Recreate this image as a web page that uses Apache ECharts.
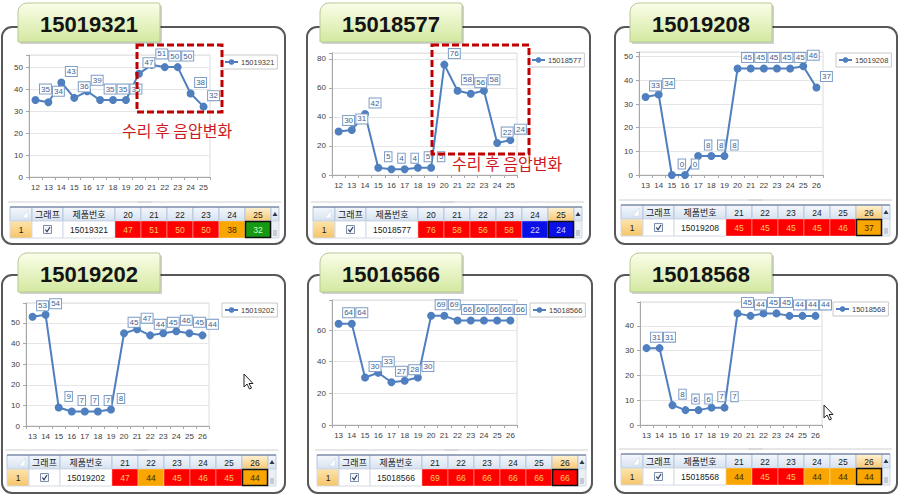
<!DOCTYPE html>
<html><head><meta charset="utf-8">
<script src="https://cdn.jsdelivr.net/npm/echarts@6/dist/echarts.min.js"></script>
<style>html,body{margin:0;padding:0;background:#fff;}#c{width:898px;height:495px;}</style>
</head><body><div id="c"></div>
<script>
// ---------- data ----------
const titles = ['15019321', '15018577', '15019208', '15019202', '15016566', '15018568'];
const seriesNames = ['15019321', '15018577', '15019208', '15019202', '15018566', '15018568'];
const categoriesA = ['12', '13', '14', '15', '16', '17', '18', '19', '20', '21', '22', '23', '24', '25'];
const categoriesB = ['13', '14', '15', '16', '17', '18', '19', '20', '21', '22', '23', '24', '25', '26'];
const values1 = [35, 34, 43, 36, 39, 35, 35, 35, 47, 51, 50, 50, 38, 32];
const values2 = [30, 31, 42, 5, 4, 4, 5, 5, 76, 58, 56, 58, 22, 24];
const values3 = [33, 34, 0, 0, 8, 8, 8, 45, 45, 45, 45, 45, 46, 37];
const values4 = [53, 54, 9, 7, 7, 7, 8, 45, 47, 44, 45, 46, 45, 44];
const values5 = [64, 64, 30, 33, 27, 28, 30, 69, 69, 66, 66, 66, 66, 66];
const values6 = [31, 31, 8, 6, 6, 7, 7, 45, 44, 45, 45, 44, 44, 44];
const cellColors1 = ['red', 'red', 'red', 'red', 'orange', 'green'];
const cellColors2 = ['red', 'red', 'red', 'red', 'blue', 'blue'];
const cellColors3 = ['red', 'red', 'red', 'red', 'red', 'orange'];
const cellColors4 = ['red', 'orange', 'red', 'red', 'red', 'orange'];
const cellColors5 = ['red', 'red', 'red', 'red', 'red', 'red'];
const cellColors6 = ['orange', 'red', 'red', 'orange', 'orange', 'orange'];
const tableHeaders = ['그래프', '제품번호'];
const noteText = '수리 후 음압변화';
const rowNumber = '1';

const allValues = [values1, values2, values3, values4, values5, values6];
const allCats = [categoriesA, categoriesA, categoriesB, categoriesB, categoriesB, categoriesB];
const allCellColors = [cellColors1, cellColors2, cellColors3, cellColors4, cellColors5, cellColors6];

// ---------- layout ----------
const panels = [
  {frame: [2, 27, 283, 217], tab: [18, 3], grid: [29, 55, 181, 122], yMax: 55.5, step: 10, legend: [222, 55], table: [10, 207]},
  {frame: [307, 27, 283, 217], tab: [320, 3], grid: [332, 53, 185, 122], yMax: 84, step: 20, legend: [529, 53], table: [313, 207]},
  {frame: [615, 27, 282, 217], tab: [630, 3], grid: [639, 52, 184, 123], yMax: 52, step: 10, legend: [836, 53], table: [621, 205]},
  {frame: [2, 275, 283, 218], tab: [18, 253], grid: [26, 303, 183, 123], yMax: 59.7, step: 10, legend: [222, 303], table: [7, 455]},
  {frame: [308, 275, 284, 218], tab: [320, 253], grid: [332, 300, 185, 125], yMax: 79, step: 20, legend: [530, 303], table: [317, 455]},
  {frame: [615, 275, 282, 218], tab: [630, 253], grid: [640, 302, 182, 123], yMax: 49.6, step: 10, legend: [833, 302], table: [621, 454]}
];
const notes = [
  {box: [137, 45, 85, 67], text: [122, 130]},
  {box: [432, 45, 97, 109], text: [452, 163]}
];
const cursors = [[244, 374], [824, 405]];

const LINE = '#4f7fbf';
const cellFill = {red: '#ff0000', orange: '#f9a602', blue: '#0a10e6', green: '#169a16'};
const cellText = {red: '#ffc860', orange: '#3a2a00', blue: '#d0d8ff', green: '#d0ffc0'};
const G = echarts.graphic;
const numFont = '"Liberation Sans", Arial, sans-serif';
const krFont = '"Noto Sans CJK KR", sans-serif';

const grids = [], xAxes = [], yAxes = [], series = [], legends = [], graphics = [];

panels.forEach((p, i) => {
  grids.push({left: p.grid[0], top: p.grid[1], width: p.grid[2], height: p.grid[3],
    show: true, borderColor: '#dcdcdc', borderWidth: 1, backgroundColor: '#fff', containLabel: false});
  xAxes.push({type: 'category', gridIndex: i, data: allCats[i], boundaryGap: true,
    axisLine: {lineStyle: {color: '#a8a8a8'}}, axisTick: {show: true, length: 3, lineStyle: {color: '#a8a8a8'}},
    axisLabel: {interval: 0, fontSize: 8, color: '#404040', fontFamily: numFont, margin: 6}});
  yAxes.push({type: 'value', gridIndex: i, min: 0, max: p.yMax, interval: p.step,
    axisLine: {show: true, lineStyle: {color: '#a8a8a8'}}, axisTick: {show: true, length: 3, lineStyle: {color: '#a8a8a8'}},
    splitLine: {lineStyle: {color: '#e6e6e6'}},
    axisLabel: {fontSize: 8, color: '#404040', fontFamily: numFont, margin: 6,
      formatter: (v) => (Math.abs(v % p.step) < 1e-6 ? String(v) : '')}});
  series.push({type: 'line', name: seriesNames[i], xAxisIndex: i, yAxisIndex: i, data: allValues[i],
    symbol: 'circle', symbolSize: 8, color: LINE,
    lineStyle: {color: LINE, width: 2}, itemStyle: {color: LINE},
    label: {show: true, position: 'inside', offset: [10, -11], fontSize: 8, fontFamily: numFont,
      color: '#3c5f92', backgroundColor: '#fff', borderColor: '#7d9cc6', borderWidth: 1, padding: [1, 1, 0, 1]},
    emphasis: {disabled: true}, animation: false, z: 3});
  legends.push({data: [seriesNames[i]], left: p.legend[0], top: p.legend[1], orient: 'vertical',
    backgroundColor: '#fff', borderColor: '#c8c8c8', borderWidth: 1, padding: [3, 3, 3, 2],
    itemWidth: 13, itemHeight: 7, itemGap: 0,
    textStyle: {fontSize: 7.5, color: '#404040', fontFamily: numFont, padding: [0, 0, 0, -2]}});

  // panel frame
  const [fx, fy, fw, fh] = p.frame;
  graphics.push({type: 'rect', z: 1, shape: {x: fx, y: fy, width: fw, height: fh, r: 10},
    style: {fill: 'none', stroke: '#585858', lineWidth: 2}});
  // tab
  const [tx, ty] = p.tab;
  graphics.push({type: 'rect', z: 2, shape: {x: tx + 2, y: ty + 2, width: 142, height: 39, r: [9, 2, 0, 0]},
    style: {fill: 'rgba(0,0,0,0.18)'}});
  graphics.push({type: 'rect', z: 3, shape: {x: tx, y: ty, width: 142, height: 39, r: [9, 2, 0, 0]},
    style: {fill: new G.LinearGradient(0, 0, 0, 1, [{offset: 0, color: '#fbfde9'}, {offset: 1, color: '#d3e9a0'}]),
      stroke: '#b5c996', lineWidth: 1}});
  graphics.push({type: 'text', z: 4, style: {text: titles[i], x: tx + 71, y: ty + 21,
    align: 'center', verticalAlign: 'middle', textAlign: 'center', textVerticalAlign: 'middle',
    font: 'bold 22px ' + numFont, fill: '#141414'}});

  // table
  const [bx, by] = p.table;
  const hH = 14, rH = 17;
  const widths = [22, 31, 52, 26, 26, 26, 26, 26, 26, 8];
  const totalW = widths.reduce((a, b) => a + b, 0);
  graphics.push({type: 'line', z: 2, shape: {x1: bx - 2, y1: by - 5, x2: bx + totalW + 2, y2: by - 5},
    style: {stroke: '#cfcfcf', lineWidth: 1}});
  graphics.push({type: 'rect', z: 2, shape: {x: bx + totalW / 2 - 7, y: by - 6, width: 14, height: 2},
    style: {fill: '#d8d8d8'}});
  const headGrad = () => new G.LinearGradient(0, 0, 0, 1, [{offset: 0, color: '#f5f8fc'}, {offset: 1, color: '#d6e2f1'}]);
  const selGrad = () => new G.LinearGradient(0, 0, 0, 1, [{offset: 0, color: '#fff3d6'}, {offset: 1, color: '#f7c873'}]);
  const cats6 = allCats[i].slice(-6);
  const vals6 = allValues[i].slice(-6);
  let cx = bx;
  widths.forEach((w, c) => {
    const isSel = c === 8;
    graphics.push({type: 'rect', z: 2, shape: {x: cx, y: by, width: w, height: hH},
      style: {fill: isSel ? selGrad() : headGrad(), stroke: '#b7c7dc', lineWidth: 1}});
    let headTxt = null;
    if (c === 1 || c === 2) headTxt = tableHeaders[c - 1];
    if (c >= 3 && c <= 8) headTxt = cats6[c - 3];
    if (headTxt !== null) {
      graphics.push({type: 'text', z: 3, style: {text: headTxt, x: cx + w / 2, y: by + hH / 2 + 0.5,
        align: 'center', verticalAlign: 'middle', textAlign: 'center', textVerticalAlign: 'middle',
        font: (c <= 2 ? '9px ' + krFont : '8.5px ' + numFont), fill: '#202020'}});
    }
    if (c === 0) {
      graphics.push({type: 'polygon', z: 3, shape: {points: [[cx + w - 4, by + 3], [cx + w - 4, by + hH - 3], [cx + w - 10, by + hH - 3]]},
        style: {fill: '#ffffff', stroke: '#c4d2e4', lineWidth: 0.5}});
    }
    if (c === 9) {
      graphics.push({type: 'polygon', z: 3, shape: {points: [[cx + 4, by + 5], [cx + 1.5, by + 9], [cx + 6.5, by + 9]]},
        style: {fill: '#303848'}});
    }
    const ry = by + hH;
    let fill = '#ffffff', txt = null, tcol = '#202020', font = '8.5px ' + numFont;
    if (c === 0) { fill = new G.LinearGradient(0, 0, 0, 1, [{offset: 0, color: '#fde4ac'}, {offset: 1, color: '#f6c56a'}]); txt = rowNumber; }
    if (c === 2) { txt = seriesNames[i]; }
    if (c >= 3 && c <= 8) { const k = allCellColors[i][c - 3]; fill = cellFill[k]; tcol = cellText[k]; txt = String(vals6[c - 3]); }
    if (c === 9) { fill = '#eceff4'; }
    graphics.push({type: 'rect', z: 2, shape: {x: cx, y: ry, width: w, height: rH},
      style: {fill: fill, stroke: (c >= 3 && c <= 8) ? 'rgba(255,255,255,0.35)' : '#d3dbe6', lineWidth: 1}});
    if (txt !== null) {
      graphics.push({type: 'text', z: 3, style: {text: txt, x: cx + w / 2, y: ry + rH / 2 + 0.5,
        align: 'center', verticalAlign: 'middle', textAlign: 'center', textVerticalAlign: 'middle',
        font: font, fill: tcol}});
    }
    if (c === 1) {
      const kx = cx + w / 2 - 4, ky = ry + rH / 2 - 4;
      graphics.push({type: 'rect', z: 3, shape: {x: kx, y: ky, width: 8, height: 8},
        style: {fill: '#f4f6fa', stroke: '#7d8fa8', lineWidth: 1}});
      graphics.push({type: 'polyline', z: 4, shape: {points: [[kx + 1.8, ky + 4], [kx + 3.5, ky + 6.2], [kx + 6.5, ky + 1.5]]},
        style: {stroke: '#2a3a5a', lineWidth: 1.2, fill: 'none'}});
    }
    if (c === 9) {
      for (let g = 0; g < 3; g++) {
        graphics.push({type: 'line', z: 3, shape: {x1: cx + 2, y1: ry + rH - 7 + g * 2, x2: cx + w - 2, y2: ry + rH - 7 + g * 2},
          style: {stroke: '#8d97a8', lineWidth: 0.8}});
      }
    }
    if (c === 8) {
      graphics.push({type: 'rect', z: 4, shape: {x: cx + 0.5, y: ry + 0.5, width: w - 1, height: rH - 1},
        style: {fill: 'none', stroke: '#111', lineWidth: 1.5}});
    }
    cx += w;
  });
  graphics.push({type: 'line', z: 4, shape: {x1: bx, y1: by, x2: bx + totalW, y2: by},
    style: {stroke: '#5a6d8c', lineWidth: 1}});
});

// annotations
notes.forEach((n) => {
  graphics.push({type: 'rect', z: 100, shape: {x: n.box[0], y: n.box[1], width: n.box[2], height: n.box[3]},
    style: {fill: 'none', stroke: '#c00000', lineWidth: 3, lineDash: [7, 3]}});
  graphics.push({type: 'text', z: 100, style: {text: noteText, x: n.text[0], y: n.text[1],
    align: 'left', verticalAlign: 'middle', textAlign: 'left', textVerticalAlign: 'middle',
    font: '16px ' + krFont, fill: '#cc1a22'}});
});
cursors.forEach((c) => {
  const [x, y] = c;
  graphics.push({type: 'polygon', z: 100, shape: {points: [[x, y], [x, y + 13], [x + 3, y + 10], [x + 5.5, y + 15], [x + 7.5, y + 14], [x + 5, y + 9.5], [x + 9, y + 9.5]]},
    style: {fill: '#fff', stroke: '#222', lineWidth: 1}});
});

const chart = echarts.init(document.getElementById('c'), null, {renderer: 'svg'});
chart.setOption({
  animation: false,
  backgroundColor: '#fff',
  grid: grids, xAxis: xAxes, yAxis: yAxes, series: series, legend: legends,
  graphic: {elements: graphics}
});
</script></body></html>
